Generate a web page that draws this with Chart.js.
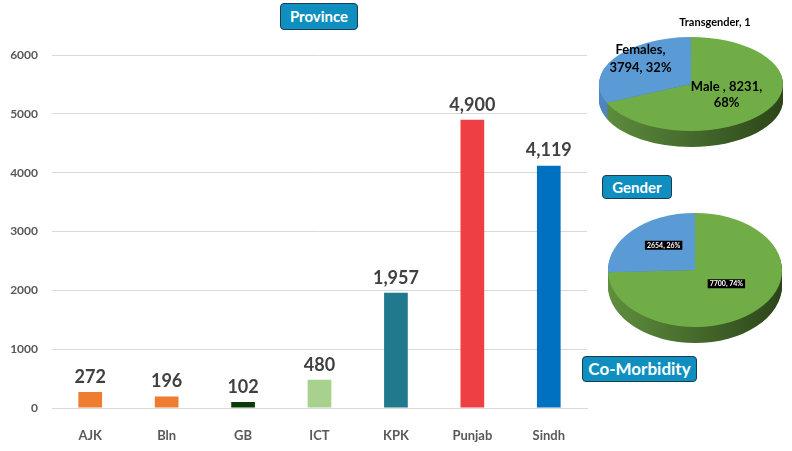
<!DOCTYPE html>
<html>
<head>
<meta charset="utf-8">
<script src="https://cdn.jsdelivr.net/npm/chart.js@4.4.0/dist/chart.umd.min.js"></script>
<style>
  html, body { margin: 0; padding: 0; background: #fff; }
  #wrap { position: relative; width: 792px; height: 451px; overflow: hidden; font-family: Lato, sans-serif; }
  canvas { position: absolute; }
  .tag { position: absolute; box-sizing: border-box; background: #0E8FC0; border: 1px solid #1D3B4C;
         border-radius: 4px; color: #fff; font-weight: bold; text-align: center; }
</style>
</head>
<body>
<div id="wrap">
  <canvas id="bar" width="792" height="451" style="left:0;top:0"></canvas>
  <canvas id="gender" width="200" height="160" style="left:590px;top:0"></canvas>
  <canvas id="morb" width="190" height="150" style="left:600px;top:200px"></canvas>
  <div class="tag" style="left:280px;top:3px;width:78px;height:27px;line-height:25px;font-size:15px">Province</div>
  <div class="tag" style="left:602px;top:175px;width:70px;height:24px;line-height:22px;font-size:15px">Gender</div>
  <div class="tag" style="left:582px;top:356px;width:115px;height:26px;line-height:24px;font-size:17px">Co-Morbidity</div>
</div>
<script>
// data
const provinces = ['AJK', 'Bln', 'GB', 'ICT', 'KPK', 'Punjab', 'Sindh'];
const provinceCases = [272, 196, 102, 480, 1957, 4900, 4119];
const yMax = 6000;
const yStep = 1000;

const genderCats = ['Male ', 'Females', 'Transgender'];
const genderCases = [8231, 3794, 1];

const morbidityCats = ['Without co-morbidity', 'With co-morbidity'];
const morbidityCases = [7700, 2654];

// styles
const barColors = ['#ED7D31', '#ED7D31', '#0B3A0B', '#A9D18E', '#21798E', '#EE4044', '#0070C0'];
const FONT = 'Lato, sans-serif';
const GREEN = '#70AD47', BLUE = '#5B9BD5';
const GREEN_SIDE = ['#5F8F3F', '#2C4519'], BLUE_SIDE = ['#4F86C0', '#2E5D8C'];

Chart.defaults.font.family = FONT;

const barValues = {
  id: 'barValues',
  afterDatasetsDraw(chart) {
    const ctx = chart.ctx;
    ctx.save();
    ctx.font = 'bold 18px ' + FONT;
    ctx.fillStyle = '#404040';
    ctx.textAlign = 'center';
    ctx.textBaseline = 'middle';
    chart.getDatasetMeta(0).data.forEach((bar, i) => {
      ctx.fillText(provinceCases[i].toLocaleString('en-US'), bar.x, bar.y - 15);
    });
    ctx.restore();
  }
};

new Chart(document.getElementById('bar'), {
  type: 'bar',
  data: {
    labels: provinces,
    datasets: [{
      data: provinceCases,
      backgroundColor: barColors,
      barPercentage: 0.31,
      categoryPercentage: 1
    }]
  },
  options: {
    responsive: false,
    animation: false,
    events: [],
    layout: { padding: { top: 55, right: 205, left: 0, bottom: 0 } },
    plugins: { legend: { display: false }, tooltip: { enabled: false } },
    scales: {
      x: {
        grid: { display: false },
        border: { color: '#D9D9D9' },
        ticks: { color: '#595959', font: { size: 13, weight: 'bold' }, padding: 12 },
        afterFit: a => { a.height = 43; }
      },
      y: {
        min: 0, max: yMax,
        ticks: { stepSize: yStep, color: '#595959', font: { size: 12, weight: 'bold' }, padding: 14,
                 callback: v => String(v) },
        grid: { color: '#D9D9D9', drawTicks: false },
        border: { display: false },
        afterFit: a => { a.width = 52; }
      }
    }
  },
  plugins: [barValues]
});

// 3D-looking pie: squash the circle into an ellipse and draw a side below it
function toEllipse(ctx, arc, g) {
  ctx.translate(g.cx, g.cy);
  ctx.scale(g.rx / arc.outerRadius, g.ry / arc.outerRadius);
  ctx.translate(-arc.x, -arc.y);
}

const pie3d = {
  id: 'pie3d',
  beforeDatasetsDraw(chart, args, opts) {
    const ctx = chart.ctx, g = opts.geom;
    const arcs = chart.getDatasetMeta(0).data;
    for (let d = g.depth; d > 0; d--) {
      arcs.forEach((arc, i) => {
        ctx.save();
        ctx.translate(0, d);
        toEllipse(ctx, arc, g);
        const R = arc.outerRadius;
        const grad = ctx.createLinearGradient(arc.x - R, 0, arc.x + R, 0);
        grad.addColorStop(0, opts.side[i][0]);
        grad.addColorStop(1, opts.side[i][1]);
        ctx.fillStyle = grad;
        ctx.beginPath();
        ctx.moveTo(arc.x, arc.y);
        ctx.arc(arc.x, arc.y, R, arc.startAngle, arc.endAngle);
        ctx.closePath();
        ctx.fill();
        ctx.restore();
      });
    }
    ctx.save();
    toEllipse(ctx, arcs[0], g);
  },
  afterDatasetsDraw(chart) {
    chart.ctx.restore();
  },
  afterDraw(chart, args, opts) {
    const ctx = chart.ctx, g = opts.geom;
    const values = chart.data.datasets[0].data;
    const total = values.reduce((a, b) => a + b, 0);
    chart.getDatasetMeta(0).data.forEach((arc, i) => {
      const lab = opts.label(i, chart.data.labels[i], values[i], Math.round(values[i] / total * 100));
      const mid = (arc.startAngle + arc.endAngle) / 2;
      const x = g.cx + lab.f * g.rx * Math.cos(mid) + lab.dx;
      const y = g.cy + lab.f * g.ry * Math.sin(mid) + lab.dy;
      ctx.save();
      ctx.font = lab.font;
      ctx.textAlign = 'center';
      ctx.textBaseline = 'middle';
      const n = lab.lines.length;
      lab.lines.forEach((t, k) => {
        const ty = y + (k - (n - 1) / 2) * lab.lh;
        if (lab.boxed) {
          const w = ctx.measureText(t).width + 4;
          ctx.fillStyle = '#000';
          ctx.fillRect(x - w / 2, ty - lab.lh / 2, w, lab.lh);
          ctx.fillStyle = '#fff';
        } else {
          ctx.fillStyle = '#000';
        }
        ctx.fillText(t, x, ty);
      });
      ctx.restore();
    });
  }
};

function pieChart(id, cats, values, colors, side, geom, label) {
  return new Chart(document.getElementById(id), {
    type: 'pie',
    data: {
      labels: cats,
      datasets: [{ data: values, backgroundColor: colors, borderWidth: 0, clip: false }]
    },
    options: {
      responsive: false,
      animation: false,
      events: [],
      layout: { padding: 0 },
      plugins: {
        legend: { display: false },
        tooltip: { enabled: false },
        pie3d: { geom: geom, side: side, label: label }
      }
    },
    plugins: [pie3d]
  });
}

pieChart('gender', genderCats, genderCases,
  [GREEN, BLUE, '#ED7D31'],
  [GREEN_SIDE, BLUE_SIDE, ['#B85F22', '#8A4518']],
  { cx: 101, cy: 84, rx: 92, ry: 47, depth: 16 },
  (i, cat, v, p) => {
    const f = 'bold 13px ' + FONT;
    if (i === 0) return { lines: [cat + ', ' + v + ',', p + '%'], f: 0.5, dx: -3, dy: -2, font: f, lh: 16 };
    if (i === 1) return { lines: [cat + ',', v + ', ' + p + '%'], f: 0.5, dx: -12, dy: -12, font: f, lh: 18 };
    return { lines: [cat + ', ' + v], f: 1.2, dx: 24, dy: -5, font: 'bold 11px ' + FONT, lh: 12 };
  });

pieChart('morb', morbidityCats, morbidityCases,
  [GREEN, BLUE],
  [GREEN_SIDE, BLUE_SIDE],
  { cx: 95, cy: 70, rx: 87, ry: 57, depth: 16 },
  (i, cat, v, p) => ({ lines: [v + ', ' + p + '%'], f: 0.5, dx: 0, dy: i === 0 ? -6 : -5,
                       font: 'bold 7px ' + FONT, lh: 9, boxed: true }));
</script>
</body>
</html>
